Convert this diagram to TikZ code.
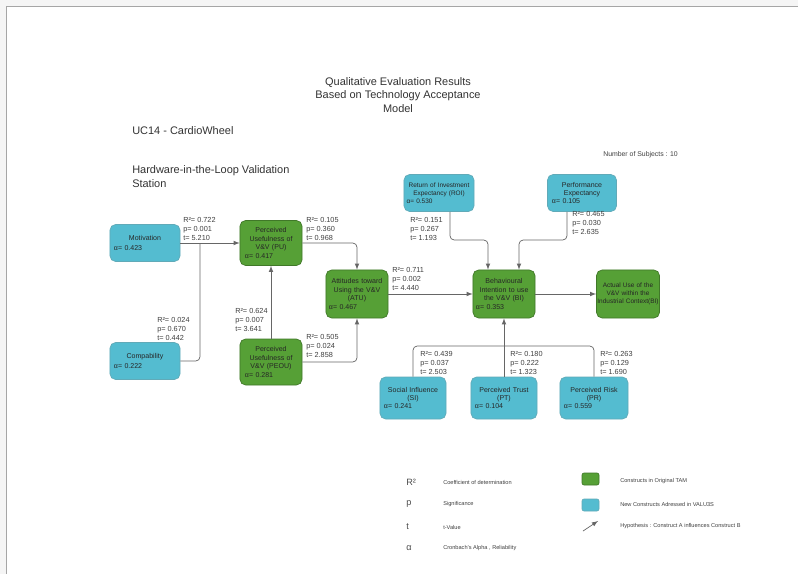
\documentclass[tikz,border=0pt]{standalone}
\usepackage{fontspec}
\setmainfont{Liberation Sans}
\usepackage{tikz}
\tikzset{>=latex}
\usetikzlibrary{arrows.meta, positioning, calc}

\definecolor{tamgreen}{RGB}{86,160,54}
\definecolor{newblue}{RGB}{84,188,208}

\newcommand{\boxfont}{\fontsize{5}{6}\selectfont\hyphenpenalty=10000}
\newcommand{\smallboxfont}{\fontsize{4.6}{5.8}\selectfont\hyphenpenalty=10000}
\newcommand{\statfont}{\fontsize{5.2}{6.2}\selectfont}
\newcommand{\legfont}{\fontsize{4}{5}\selectfont}
\newcommand{\stats}[3]{R²= #1\\p= #2\\t= #3}
\newcommand{\alf}[1]{\\\hbox to\hsize{α= #1\hfil}}

\tikzset{
  construct/.style={rounded corners=4pt, align=center, font=\boxfont, text=black!85,
    inner sep=0pt, line width=0.5pt},
  tam/.style={construct, fill=tamgreen, draw=tamgreen!75!black},
  newc/.style={construct, fill=newblue, draw=newblue!70!gray},
  stat/.style={anchor=west, align=left, inner sep=0pt, font=\statfont, text=black!75},
  link/.style={->, draw=black!60, line width=0.5pt, rounded corners=3pt},
  legsym/.style={anchor=west, inner sep=0pt, font=\fontsize{6.5}{7}\selectfont, text=black!70},
  legtxt/.style={anchor=west, inner sep=0pt, font=\legfont, text=black!75},
}

\begin{document}
\begin{tikzpicture}[x=0.025cm, y=-0.025cm]
    \useasboundingbox (0,0) rectangle (798,574);

    % page
    \fill[black!4] (0,0) rectangle (798,574);
    \fill[white] (6,6) rectangle (798,574);
    \draw[black!35, line width=0.6pt] (6,574) -- (6,6) -- (798,6);

    % headings
    \node[align=center, font=\fontsize{7.8}{9.3}\selectfont, text=black!80] (title) at (398,95)
        {Qualitative Evaluation Results\\Based on Technology Acceptance\\Model};
    \node[anchor=west, inner sep=0pt, font=\fontsize{7.8}{9.3}\selectfont, text=black!80] (uc) at (132,131)
        {UC14 - CardioWheel};
    \node[anchor=west, align=left, inner sep=0pt, font=\fontsize{7.8}{10}\selectfont, text=black!80] (hil) at (132,177)
        {Hardware-in-the-Loop Validation\\Station};
    \node[anchor=west, inner sep=0pt, font=\fontsize{4.9}{6}\selectfont, text=black!75] (subj) at (603,155)
        {Number of Subjects : 10};

    % constructs
    \node[newc, minimum width=1.75cm, minimum height=0.925cm, text width=1.55cm] (mot) at (145,243)
        {Motivation\\[1.5pt]\hbox to\hsize{α= 0.423\hfil}};
    \node[newc, minimum width=1.75cm, minimum height=0.925cm, text width=1.55cm] (comp) at (145,361)
        {Compability\\[1.5pt]\hbox to\hsize{α= 0.222\hfil}};
    \node[tam, minimum width=1.55cm, minimum height=1.125cm, text width=1.3cm] (pu) at (271,243)
        {Perceived\\Usefulness of\\V\&V (PU)\alf{0.417}};
    \node[tam, minimum width=1.55cm, minimum height=1.15cm, text width=1.3cm] (peou) at (271,362)
        {Perceived\\Usefulness of\\V\&V (PEOU)\alf{0.281}};
    \node[tam, minimum width=1.55cm, minimum height=1.2cm, text width=1.4cm] (atu) at (357,294)
        {Attitudes toward\\Using the V\&V\\(ATU)\alf{0.467}};
    \node[tam, minimum width=1.55cm, minimum height=1.2cm, text width=1.4cm] (bi) at (504,294)
        {Behavioural\\Intention to use\\the V\&V (BI)\alf{0.353}};
    \node[tam, font=\smallboxfont, minimum width=1.575cm, minimum height=1.2cm, text width=1.55cm] (use) at (628,294)
        {Actual Use of the\\V\&V within the\\Industrial Context(BI)};
    \node[newc, font=\smallboxfont, minimum width=1.75cm, minimum height=0.925cm, text width=1.62cm] (roi) at (439,193)
        {Return of Investment\\Expectancy (ROI)\alf{0.530}};
    \node[newc, minimum width=1.725cm, minimum height=0.925cm, text width=1.5cm] (pe) at (582,193)
        {Performance\\Expectancy\alf{0.105}};
    \node[newc, minimum width=1.65cm, minimum height=1.05cm, text width=1.45cm] (si) at (413,398)
        {Social Influence\\(SI)\alf{0.241}};
    \node[newc, minimum width=1.65cm, minimum height=1.05cm, text width=1.45cm] (pt) at (504,398)
        {Perceived Trust\\(PT)\alf{0.104}};
    \node[newc, minimum width=1.7cm, minimum height=1.05cm, text width=1.5cm] (pr) at (594,398)
        {Perceived Risk\\(PR)\alf{0.559}};

    % hypotheses
    \coordinate (jmot) at (200,243);
    \coordinate (bil) at (488,240);
    \coordinate (bir) at (519,240);
    \coordinate (jbot) at (504,346);

    \draw[link] (mot) -- (pu);
    \draw[link, -] (comp.east) -| (jmot);
    \draw[link] (pu.east) -| (atu.north);
    \draw[link] (peou.north) -- (pu.south);
    \draw[link] (peou.east) -| (atu.south);
    \draw[link] (atu) -- (bi);
    \draw[link] ($(roi.south)+(11,0)$) |- (bil) -- (bil |- bi.north);
    \draw[link] ($(pe.south)+(-15,0)$) |- (bir) -- (bir |- bi.north);
    \draw[link] (bi) -- (use);
    \draw[link, -] (si.north) |- (jbot) -| (pr.north);
    \draw[link] (pt.north) -- (bi.south);

    % path coefficients
    \node[stat] (smot) at (183,229) {\stats{0.722}{0.001}{5.210}};
    \node[stat] (scomp) at (157,329) {\stats{0.024}{0.670}{0.442}};
    \node[stat] (spu) at (306,229) {\stats{0.105}{0.360}{0.968}};
    \node[stat] (speou) at (235,320) {\stats{0.624}{0.007}{3.641}};
    \node[stat] (speat) at (306,346) {\stats{0.505}{0.024}{2.858}};
    \node[stat] (satu) at (392,279) {\stats{0.711}{0.002}{4.440}};
    \node[stat] (sroi) at (410,229) {\stats{0.151}{0.267}{1.193}};
    \node[stat] (spe) at (572,223) {\stats{0.465}{0.030}{2.635}};
    \node[stat] (ssi) at (420,363) {\stats{0.439}{0.037}{2.503}};
    \node[stat] (spt) at (510,363) {\stats{0.180}{0.222}{1.323}};
    \node[stat] (spr) at (600,363) {\stats{0.263}{0.129}{1.690}};

    % legend
    \foreach \sym/\txt/\y [count=\i] in {R²/Coefficient of determination/482, p/Significance/504,
        t/t-Value/527, α/{Cronbach's Alpha , Reliability}/548}{
            \node[legsym] (sym\i) at (406,\y) {\sym};
            \node[legtxt] (lt\i) at (443,\y) {\txt};
        }
    \node[tam, minimum width=0.425cm, minimum height=0.3cm, rounded corners=1.5pt] (legtam) at (590.5,479) {};
    \node[newc, minimum width=0.425cm, minimum height=0.3cm, rounded corners=1.5pt] (legnew) at (590.5,505) {};
    \coordinate (ha) at (583,531);
    \coordinate (hb) at (598,521);
    \draw[link] (ha) -- (hb);
    \node[legtxt] (ltam) at (620,481) {Constructs in Original TAM};
    \node[legtxt] (lnew) at (620,504) {New Constructs Adressed in VALU3S};
    \node[legtxt] (lhyp) at (620,526) {Hypothesis : Construct A influences Construct B};

\end{tikzpicture}
\end{document}
